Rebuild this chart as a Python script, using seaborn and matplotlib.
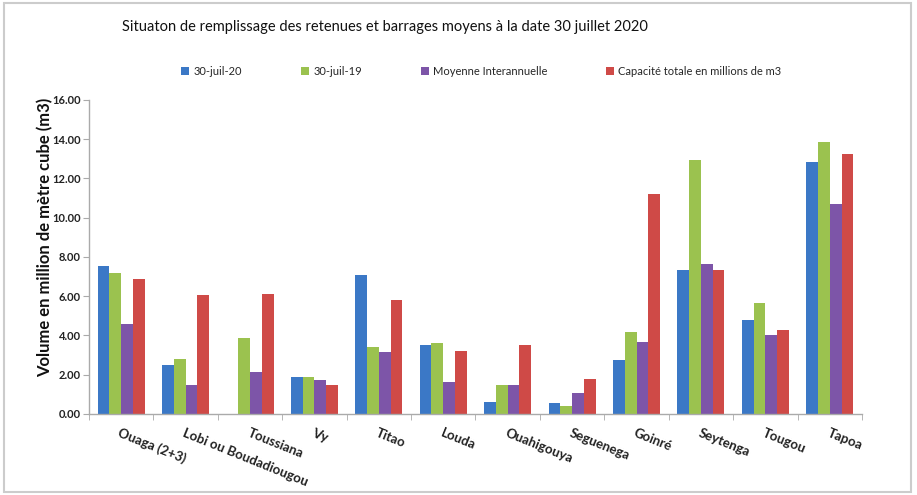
import numpy as np
import pandas as pd
import seaborn as sbn
import matplotlib.pyplot as plt
from matplotlib.patches import Rectangle

# data
barrages = ["Ouaga (2+3)", "Lobi ou Boudadiougou", "Toussiana", "Vy", "Titao", "Louda",
            "Ouahigouya", "Seguenega", "Goinré", "Seytenga", "Tougou", "Tapoa"]
juil20 = [7.56, 2.50, 0.00, 1.89, 7.07, 3.53, 0.61, 0.55, 2.72, 7.34, 4.77, 12.86]
juil19 = [7.19, 2.80, 3.87, 1.90, 3.39, 3.61, 1.48, 0.41, 4.19, 12.96, 5.66, 13.88]
moyenne = [4.56, 1.45, 2.11, 1.74, 3.15, 1.63, 1.48, 1.06, 3.66, 7.65, 4.00, 10.71]
capacite = [6.85, 6.05, 6.10, 1.48, 5.82, 3.20, 3.49, 1.79, 11.21, 7.32, 4.27, 13.27]

series = ["30-juil-20", "30-juil-19", "Moyenne Interannuelle", "Capacité totale en millions de m3"]
colors = ["#3b78c6", "#9bc24f", "#7d55a8", "#cf4a47"]

df = pd.DataFrame({"barrage": barrages * 4,
                   "serie": np.repeat(series, len(barrages)),
                   "volume": juil20 + juil19 + moyenne + capacite})

sbn.set_style("white")
plt.rcParams["font.family"] = ["Lato", "DejaVu Sans"]

fig = plt.figure(figsize=(9.17, 4.95), dpi=100)
ax = fig.add_axes([0.097, 0.164, 0.843, 0.634])

sbn.barplot(data=df, x="barrage", y="volume", hue="serie", palette=colors,
            width=0.73, gap=0, saturation=1, edgecolor="none", ax=ax)

ax.set_ylim(0, 16)
ax.set_xlim(-0.5, len(barrages) - 0.5)
ax.set_yticks(np.arange(0, 17, 2))
ax.set_yticklabels([f"{v:.2f}" for v in np.arange(0, 17, 2)], fontsize=8, fontweight="bold", color="#222222")
ax.set_xlabel("")
ax.set_ylabel("")

# category labels, slanted
ax.set_xticks(range(len(barrages)))
ax.set_xticklabels([])
ax.tick_params(axis="x", which="major", length=0)
for i, name in enumerate(barrages):
    ax.text(i, -0.65, name, rotation=-22, rotation_mode="anchor", ha="left", va="top",
            fontsize=9.5, fontweight="bold", color="#222222")
ax.set_xticks(np.arange(-0.5, len(barrages), 1), minor=True)
ax.tick_params(axis="x", which="minor", length=4, color="#aaaaaa", direction="out", bottom=True)
ax.tick_params(axis="y", length=4, color="#aaaaaa", direction="out", left=True, pad=2)

for s in ["top", "right"]:
    ax.spines[s].set_visible(False)
for s in ["left", "bottom"]:
    ax.spines[s].set_color("#aaaaaa")
    ax.spines[s].set_linewidth(1)

ax.legend(loc="center", bbox_to_anchor=(0.525, 0.855), bbox_transform=fig.transFigure,
          ncol=4, frameon=False, fontsize=8, handlelength=0.7, handleheight=0.7,
          handletextpad=0.4, columnspacing=5.3)

fig.text(0.133, 0.945, "Situaton de remplissage des retenues et barrages moyens à la date 30 juillet 2020",
         fontsize=10.5, ha="left", va="center", color="#111111")
fig.text(0.049, 0.52, "Volume en million de mètre cube (m3)", rotation=90, fontsize=12,
         fontweight="bold", ha="center", va="center", color="#111111")

fig.patches.append(Rectangle((0.004, 0.006), 0.99, 0.988, transform=fig.transFigure,
                             fill=False, edgecolor="#cccccc", linewidth=1.5))

plt.savefig("out.png", dpi=100)
